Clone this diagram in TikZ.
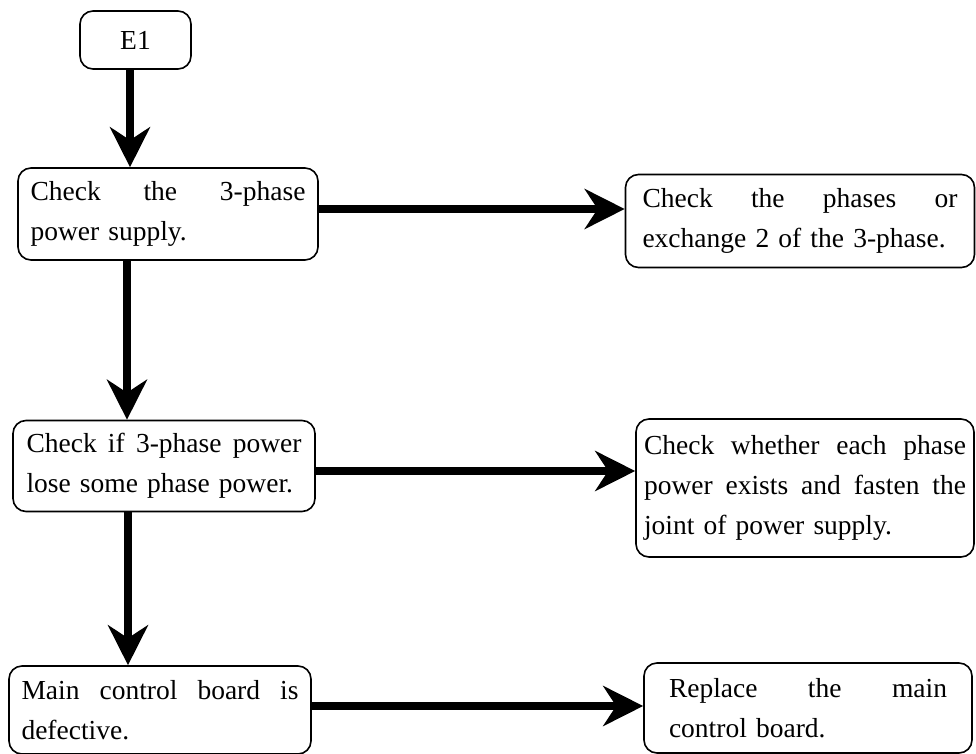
\documentclass[tikz,border=0pt]{standalone}
\usepackage{fontspec}
\setmainfont{Liberation Serif}
\usetikzlibrary{arrows.meta}
\begin{document}
\begin{tikzpicture}[x=1pt,y=-1pt,
  box/.style={draw, line width=1.6pt, rounded corners=13pt, inner sep=0pt, align=left,
    font=\fontsize{27.5}{40}\selectfont},
  flow/.style={line width=8pt, -{Stealth[length=40pt,width=40pt,inset=13pt]}}]
\useasboundingbox (0,0) rectangle (976,754);

\node[box, minimum width=111pt, minimum height=58pt] (e1) at (135.5,40) {E1};
\node[box, minimum width=300pt, minimum height=92pt, text width=275pt] (b1) at (168,214)
  {Check\hfill the\hfill 3-phase\\power supply.};
\node[box, minimum width=349pt, minimum height=93pt, text width=315pt] (b2) at (800,221)
  {Check\hfill the\hfill phases\hfill or\\exchange 2 of the 3-phase.};
\node[box, minimum width=302pt, minimum height=91pt, text width=275pt] (b3) at (164,466)
  {Check\hfill if\hfill 3-phase\hfill power\\lose some phase power.};
\node[box, minimum width=338pt, minimum height=138pt, text width=322pt] (b4) at (805,488)
  {Check\hfill whether\hfill each\hfill phase\\power\hfill exists\hfill and\hfill fasten\hfill the\\joint of power supply.};
\node[box, minimum width=302pt, minimum height=88pt, text width=277pt] (b5) at (160,710)
  {Main\hfill control\hfill board\hfill is\\defective.};
\node[box, minimum width=328pt, minimum height=90pt, text width=278pt] (b6) at (808,708)
  {Replace\hfill the\hfill main\\control board.};

\draw[flow] (e1.south -| 130,0) -- (b1.north -| 130,0);
\draw[flow] (b1.south -| 127,0) -- (b3.north -| 127,0);
\draw[flow] (b3.south -| 128,0) -- (b5.north -| 128,0);
\draw[flow] (b1.east |- 0,209) -- (b2.west |- 0,209);
\draw[flow] (b3.east |- 0,471) -- (b4.west |- 0,471);
\draw[flow] (b5.east |- 0,706) -- (b6.west |- 0,706);
\end{tikzpicture}
\end{document}
